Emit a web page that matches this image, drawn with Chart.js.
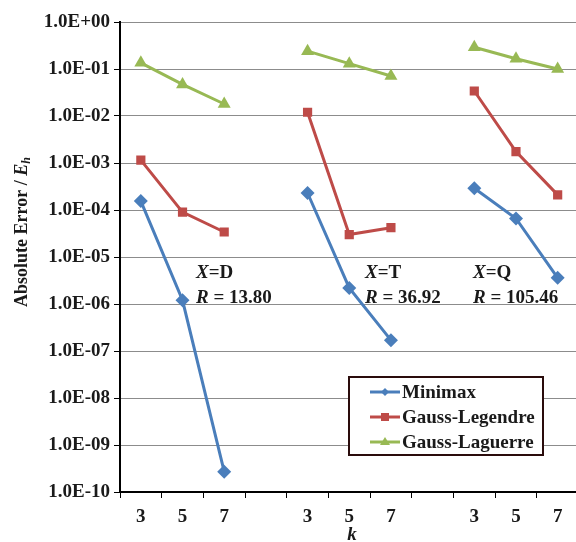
<!DOCTYPE html>
<html>
<head>
<meta charset="utf-8">
<script src="https://cdn.jsdelivr.net/npm/chart.js@4.4.0/dist/chart.umd.min.js"></script>
<style>
  html, body { margin: 0; padding: 0; background: #fff; overflow: hidden; }
  #wrap { width: 586px; height: 542px; }
</style>
</head>
<body>
<div id="wrap"><canvas id="chart" width="586" height="542"></canvas></div>
<script>
// categories: three groups of k, with an empty slot between groups
const kLabels = ['3', '5', '7', '', '3', '5', '7', '', '3', '5', '7'];

// absolute errors (null = gap between groups)
const minimax = [1.55e-4, 1.2e-6, 2.7e-10, null, 2.3e-4, 2.2e-6, 1.7e-7, null, 2.9e-4, 6.6e-5, 3.6e-6];
const gaussLegendre = [1.15e-3, 9.0e-5, 3.4e-5, null, 1.2e-2, 3.0e-5, 4.2e-5, null, 3.4e-2, 1.75e-3, 2.1e-4];
const gaussLaguerre = [0.135, 0.047, 0.018, null, 0.24, 0.13, 0.071, null, 0.29, 0.165, 0.1];

const yTickValues = [1, 1e-1, 1e-2, 1e-3, 1e-4, 1e-5, 1e-6, 1e-7, 1e-8, 1e-9, 1e-10];
const yTickLabels = ['1.0E+00', '1.0E-01', '1.0E-02', '1.0E-03', '1.0E-04', '1.0E-05',
                     '1.0E-06', '1.0E-07', '1.0E-08', '1.0E-09', '1.0E-10'];

const groupNames = ['D', 'T', 'Q'];
const groupR = ['13.80', '36.92', '105.46'];

const serif = '"Liberation Serif", "Times New Roman", serif';
const ink = '#1a1a1a';

// annotations, legend box and axis titles
const extras = {
  id: 'extras',
  afterDraw(chart) {
    const ctx = chart.ctx;
    ctx.save();
    ctx.fillStyle = ink;
    ctx.textBaseline = 'alphabetic';

    // group annotations
    const annX = [196, 365, 473];
    groupNames.forEach((g, i) => {
      let x = annX[i];
      ctx.font = 'italic bold 19px ' + serif;
      ctx.fillText('X', x, 278);
      x += ctx.measureText('X').width;
      ctx.font = 'bold 19px ' + serif;
      ctx.fillText('=' + g, x, 278);

      x = annX[i];
      ctx.font = 'italic bold 19px ' + serif;
      ctx.fillText('R', x, 303);
      x += ctx.measureText('R').width;
      ctx.font = 'bold 19px ' + serif;
      ctx.fillText(' = ' + groupR[i], x, 303);
    });

    // legend
    const lx = 349, ly = 377, lw = 194, lh = 78;
    ctx.fillStyle = '#fff';
    ctx.fillRect(lx, ly, lw, lh);
    ctx.strokeStyle = '#2a0c0c';
    ctx.lineWidth = 2;
    ctx.strokeRect(lx, ly, lw, lh);
    chart.data.datasets.forEach((ds, i) => {
      const y = 392 + i * 25;
      ctx.strokeStyle = ds.borderColor;
      ctx.lineWidth = 3;
      ctx.beginPath();
      ctx.moveTo(370, y);
      ctx.lineTo(400, y);
      ctx.stroke();
      ctx.fillStyle = ds.backgroundColor;
      ctx.beginPath();
      if (ds.pointStyle === 'rectRot') {
        ctx.moveTo(385, y - 4); ctx.lineTo(389, y); ctx.lineTo(385, y + 4); ctx.lineTo(381, y);
      } else if (ds.pointStyle === 'rect') {
        ctx.rect(381, y - 4, 8, 8);
      } else {
        ctx.moveTo(385, y - 5); ctx.lineTo(390, y + 3); ctx.lineTo(380, y + 3);
      }
      ctx.closePath();
      ctx.fill();
      ctx.fillStyle = ink;
      ctx.font = 'bold 19px ' + serif;
      ctx.textBaseline = 'middle';
      ctx.fillText(ds.label, 402, y + 1);
    });

    // y axis title
    ctx.save();
    ctx.translate(22, 232);
    ctx.rotate(-Math.PI / 2);
    ctx.textBaseline = 'middle';
    const p1 = 'Absolute Error / ';
    ctx.font = 'bold 18px ' + serif;
    const w1 = ctx.measureText(p1).width;
    ctx.font = 'italic bold 18px ' + serif;
    const w2 = ctx.measureText('E').width;
    ctx.font = 'italic bold 12px ' + serif;
    const w3 = ctx.measureText('h').width;
    let x = -(w1 + w2 + w3) / 2;
    ctx.font = 'bold 18px ' + serif;
    ctx.fillText(p1, x, 0);
    x += w1;
    ctx.font = 'italic bold 18px ' + serif;
    ctx.fillText('E', x, 0);
    x += w2;
    ctx.font = 'italic bold 12px ' + serif;
    ctx.fillText('h', x, 5);
    ctx.restore();

    // x axis title
    ctx.font = 'italic bold 19px ' + serif;
    ctx.textAlign = 'center';
    ctx.textBaseline = 'alphabetic';
    ctx.fillText('k', 352, 540);
    ctx.restore();
  }
};

new Chart(document.getElementById('chart'), {
  type: 'line',
  data: {
    labels: kLabels,
    datasets: [
      { label: 'Minimax', data: minimax, borderColor: '#4a7ebb', backgroundColor: '#4a7ebb',
        pointStyle: 'rectRot', pointRadius: 7 },
      { label: 'Gauss-Legendre', data: gaussLegendre, borderColor: '#be4b48', backgroundColor: '#be4b48',
        pointStyle: 'rect', pointRadius: 6.5 },
      { label: 'Gauss-Laguerre', data: gaussLaguerre, borderColor: '#98b954', backgroundColor: '#98b954',
        pointStyle: 'triangle', pointRadius: 7.5 }
    ].map(d => Object.assign(d, { borderWidth: 3, spanGaps: false, tension: 0, pointBorderWidth: 0 }))
  },
  options: {
    responsive: false,
    animation: false,
    layout: { padding: { top: 22, right: 0, left: 0, bottom: 0 } },
    plugins: { legend: { display: false }, tooltip: { enabled: false } },
    scales: {
      x: {
        type: 'category',
        offset: true,
        afterFit(s) { s.height = 50; },
        border: { color: '#000', width: 2 },
        grid: { offset: true, drawOnChartArea: false, drawTicks: true, tickLength: 6, tickColor: '#000', tickWidth: 1 },
        ticks: { color: ink, font: { family: serif, size: 19, weight: 'bold' }, padding: 8, maxRotation: 0, autoSkip: false }
      },
      y: {
        type: 'logarithmic',
        min: 1e-10,
        max: 1,
        afterFit(s) { s.width = 120; },
        afterBuildTicks(s) { s.ticks = yTickValues.map(v => ({ value: v })); },
        border: { color: '#000', width: 2 },
        grid: { color: '#8c8c8c', lineWidth: 1, tickLength: 6, tickColor: '#000' },
        ticks: {
          color: ink,
          font: { family: serif, size: 19, weight: 'bold' },
          padding: 4,
          callback(v) { return yTickLabels[yTickValues.indexOf(v)] ?? ''; }
        }
      }
    }
  },
  plugins: [extras]
});
</script>
</body>
</html>
